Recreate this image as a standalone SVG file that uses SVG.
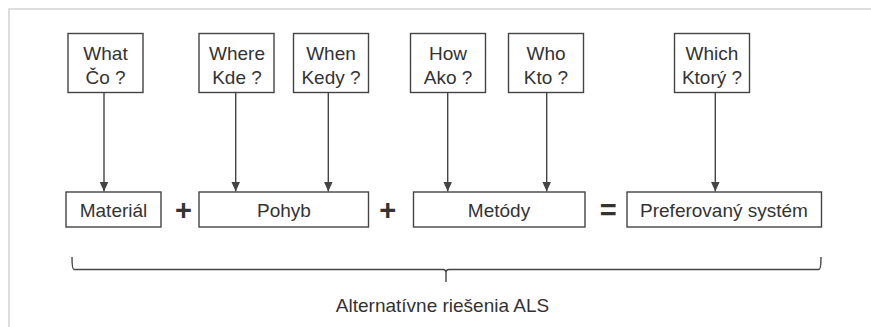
<svg xmlns="http://www.w3.org/2000/svg" width="871" height="327" viewBox="0 0 871 327">
  <style>
    .box { fill: #ffffff; stroke: #444444; stroke-width: 1.4; }
    .txt { font-family: "Liberation Sans", Arial, sans-serif; font-size: 19px; fill: #333333; text-anchor: middle; }
    .op { font-family: "Liberation Sans", Arial, sans-serif; font-size: 29px; font-weight: bold; fill: #333333; text-anchor: middle; }
    .conn { stroke: #444444; stroke-width: 1.4; fill: none; }
  </style>
  <defs>
    <marker id="arrow" markerUnits="userSpaceOnUse" markerWidth="10" markerHeight="11" refX="10" refY="5" orient="auto">
      <path d="M0,0.5 L10,5 L0,9.5 Z" fill="#444444"/>
    </marker>
  </defs>

  <!-- frame -->
  <path d="M9,327 V9 H871" fill="none" stroke="#d2d2d2" stroke-width="1.5"/>

  <!-- question boxes -->
  <g id="q-what">
    <rect class="box" x="68" y="33.5" width="75" height="59"/>
    <text class="txt" x="105.5" y="59.5">What</text>
    <text class="txt" x="105.5" y="83.5">Čo ?</text>
  </g>
  <g id="q-where">
    <rect class="box" x="199" y="33.5" width="75" height="59"/>
    <text class="txt" x="237" y="59.5">Where</text>
    <text class="txt" x="237" y="83.5">Kde ?</text>
  </g>
  <g id="q-when">
    <rect class="box" x="293.5" y="33.5" width="75" height="59"/>
    <text class="txt" x="331" y="59.5">When</text>
    <text class="txt" x="331" y="83.5">Kedy ?</text>
  </g>
  <g id="q-how">
    <rect class="box" x="410.5" y="33.5" width="75" height="59"/>
    <text class="txt" x="448" y="59.5">How</text>
    <text class="txt" x="448" y="83.5">Ako ?</text>
  </g>
  <g id="q-who">
    <rect class="box" x="508.5" y="33.5" width="75" height="59"/>
    <text class="txt" x="546" y="59.5">Who</text>
    <text class="txt" x="546" y="83.5">Kto ?</text>
  </g>
  <g id="q-which">
    <rect class="box" x="674.5" y="33.5" width="75" height="59"/>
    <text class="txt" x="712" y="59.5">Which</text>
    <text class="txt" x="712" y="83.5">Ktorý ?</text>
  </g>

  <!-- result boxes -->
  <g id="material">
    <rect class="box" x="66" y="192" width="95" height="35"/>
    <text class="txt" x="113.5" y="216.5">Materiál</text>
  </g>
  <g id="pohyb">
    <rect class="box" x="199" y="192" width="169.5" height="35"/>
    <text class="txt" x="284" y="216.5">Pohyb</text>
  </g>
  <g id="metody">
    <rect class="box" x="413.5" y="192" width="171.5" height="35"/>
    <text class="txt" x="499" y="216.5">Metódy</text>
  </g>
  <g id="preferovany">
    <rect class="box" x="627" y="192" width="194.5" height="35"/>
    <text class="txt" x="724" y="216.5">Preferovaný systém</text>
  </g>

  <!-- operators -->
  <g id="operators">
    <text class="op" x="183.5" y="220">+</text>
    <text class="op" x="387.7" y="220">+</text>
    <text class="op" x="608.3" y="220">=</text>
  </g>

  <!-- connectors -->
  <g id="connectors">
    <line class="conn" x1="104" y1="92.5" x2="104" y2="191.5" marker-end="url(#arrow)"/>
    <line class="conn" x1="235.7" y1="92.5" x2="235.7" y2="191.5" marker-end="url(#arrow)"/>
    <line class="conn" x1="328.3" y1="92.5" x2="328.3" y2="191.5" marker-end="url(#arrow)"/>
    <line class="conn" x1="447.7" y1="92.5" x2="447.7" y2="191.5" marker-end="url(#arrow)"/>
    <line class="conn" x1="546.7" y1="92.5" x2="546.7" y2="191.5" marker-end="url(#arrow)"/>
    <line class="conn" x1="715.3" y1="92.5" x2="715.3" y2="191.5" marker-end="url(#arrow)"/>
  </g>

  <!-- brace and caption -->
  <g id="brace">
    <path class="conn" d="M72,257 Q72,269.5 74,269.5 H443 Q446,269.5 446,273 V282 M446,273 Q446,269.5 449,269.5 H819 Q821,269.5 821,257"/>
    <text class="txt" x="442.5" y="312">Alternatívne riešenia ALS</text>
  </g>
</svg>
